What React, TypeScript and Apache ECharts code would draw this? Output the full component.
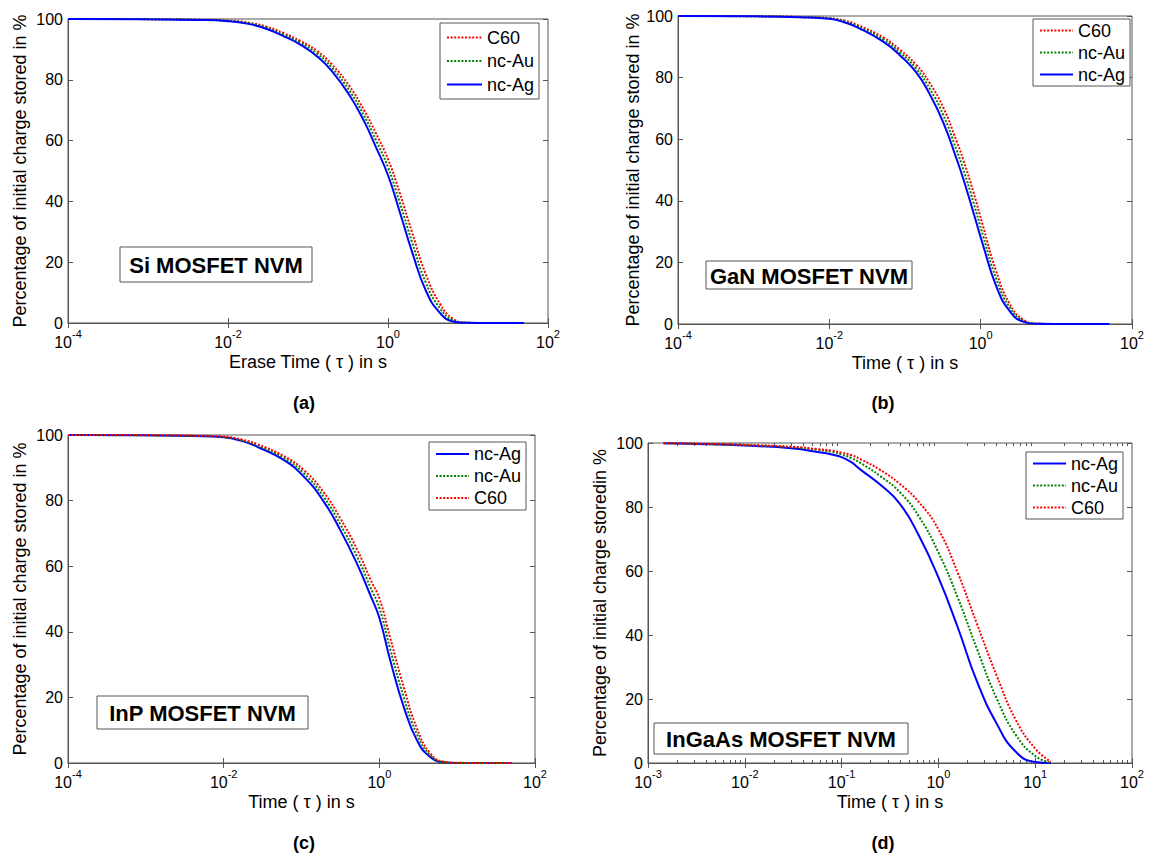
import React, { useEffect, useRef } from "react";
import * as echarts from "echarts";

const FONT = '"Liberation Sans", Arial, Helvetica, sans-serif';
const AXIS_COLOR = "#555";

// ---- (a) Si MOSFET NVM: erase time (s) and charge left (%) ----
const timesA = [0.0001, 0.001, 0.004, 0.01, 0.018, 0.03, 0.05, 0.08, 0.13, 0.2, 0.33, 0.5, 0.7, 1, 1.4, 2, 3, 4.5, 6.5, 9.5, 15, 50];
const agA = [100, 99.9, 99.7, 99.3, 98.4, 96.8, 94.3, 91.6, 87.7, 82.8, 74.9, 66.5, 58.1, 48.6, 36.6, 23.4, 10.4, 3.2, 0.5, 0.05, 0, 0];
const auA = [100, 99.95, 99.75, 99.4, 98.6, 97.1, 94.8, 92.2, 88.6, 83.9, 76.4, 68.3, 60.4, 51.2, 39.7, 26.6, 13.0, 4.7, 0.95, 0.1, 0, 0];
const c60A = [100, 99.95, 99.8, 99.5, 98.8, 97.5, 95.3, 92.8, 89.5, 85.0, 77.9, 70.1, 62.6, 53.9, 42.8, 29.8, 15.7, 6.2, 1.4, 0.15, 0, 0];

// ---- (b) GaN MOSFET NVM ----
const timesB = [0.0001, 0.001, 0.004, 0.01, 0.016, 0.023, 0.052, 0.086, 0.14, 0.21, 0.32, 0.48, 0.59, 0.8, 1.08, 1.6, 2.4, 3.7, 5.5, 10, 50];
const agB = [100, 99.9, 99.6, 99.1, 97.9, 96.4, 91.6, 87.2, 81.8, 74.8, 65.5, 53.6, 47.1, 36.3, 25.4, 12.4, 4.3, 0.7, 0.05, 0, 0];
const auB = [100, 99.9, 99.65, 99.2, 98.2, 96.8, 92.3, 88.1, 83.0, 76.6, 67.9, 56.5, 50.2, 39.6, 28.5, 14.8, 5.5, 1.0, 0.1, 0, 0];
const c60B = [100, 99.95, 99.7, 99.3, 98.5, 97.2, 93.0, 89.0, 84.2, 78.4, 70.3, 59.4, 53.3, 42.9, 31.6, 17.2, 6.7, 1.3, 0.15, 0, 0];

// ---- (c) InP MOSFET NVM ----
const timesC = [0.0001, 0.001, 0.004, 0.01, 0.017, 0.027, 0.059, 0.107, 0.193, 0.315, 0.516, 0.766, 1, 1.38, 2.06, 3.05, 4.5, 6.7, 10, 50];
const agC = [100, 99.9, 99.7, 99.3, 98.2, 96.4, 92.4, 87.3, 79.7, 71.0, 60.8, 51.2, 44.3, 31.3, 17.1, 6.9, 1.8, 0.2, 0, 0];
const auC = [100, 99.9, 99.75, 99.4, 98.4, 96.8, 93.0, 88.3, 81.1, 72.8, 63.0, 53.6, 47.3, 34.7, 20.1, 8.7, 2.4, 0.3, 0.02, 0];
const c60C = [100, 99.95, 99.8, 99.5, 98.6, 97.2, 93.6, 89.3, 82.5, 74.6, 65.2, 56.0, 50.2, 38.1, 23.1, 10.5, 3.0, 0.4, 0.05, 0];

// ---- (d) InGaAs MOSFET NVM ----
const timesD = [0.00145, 0.0032, 0.01, 0.032, 0.056, 0.079, 0.1, 0.126, 0.158, 0.25, 0.4, 0.63, 1, 1.58, 2.5, 4, 6.3, 10, 14.5];
const agD = [99.9, 99.7, 99.2, 98.3, 97.2, 96.4, 95.6, 94.0, 91.6, 87.0, 81.0, 71.0, 58.0, 42.5, 25.5, 12.3, 3.5, 0.3, 0];
const auD = [99.9, 99.75, 99.35, 98.65, 97.9, 97.2, 96.4, 95.3, 93.7, 89.7, 84.6, 77.0, 65.8, 51.8, 35.7, 20.2, 8.8, 2.2, 0.1];
const c60D = [99.9, 99.8, 99.4, 98.8, 98.1, 97.6, 97.0, 96.2, 94.9, 91.6, 87.2, 81.5, 73.0, 59.5, 43.5, 27.3, 13.5, 4.5, 0.4];

// y axis ticks (percent)
const yMin = 0;
const yMax = 100;
const yStep = 20;

// minor log ticks for panel (d): 2..9 within each decade from 1e-3 to 1e2
const minorTicksD: number[] = [];
for (let e = -3; e < 2; e++) {
  for (let k = 2; k <= 9; k++) minorTicksD.push(k * Math.pow(10, e));
}

const STYLE: Record<string, { color: string; type: any; width: number }> = {
  "nc-Ag": { color: "#0000ff", type: "solid", width: 2 },
  "nc-Au": { color: "#008000", type: [2, 1.6], width: 2 },
  C60: { color: "#ff0000", type: [2, 1.6], width: 2 },
};

type Panel = {
  grid: { left: number; top: number; width: number; height: number };
  xMin: number;
  xMax: number;
  xStep: number; // decades between labelled ticks
  minor: boolean;
  xName: string;
  yName: string;
  yNameGap: number;
  tag: string;
  tagPos: [number, number];
  note: string;
  noteBox: [number, number, number, number];
  legend: { left: number; top: number; padding: number[]; itemGap: number; lineHeight: number; itemWidth: number };
  order: string[];
  times: number[];
  values: Record<string, number[]>;
};

const PANELS: Panel[] = [
  {
    grid: { left: 68, top: 19, width: 480, height: 304 },
    xMin: 1e-4, xMax: 1e2, xStep: 2, minor: false,
    xName: "Erase Time ( τ ) in s",
    yName: "Percentage of initial charge stored in %",
    yNameGap: 39,
    tag: "(a)", tagPos: [304, 403],
    note: "Si MOSFET NVM", noteBox: [120, 247, 192, 35],
    legend: { left: 440, top: 23, padding: [5, 5, 5, 6], itemGap: 4.5, lineHeight: 19, itemWidth: 35 },
    order: ["C60", "nc-Au", "nc-Ag"],
    times: timesA,
    values: { C60: c60A, "nc-Au": auA, "nc-Ag": agA },
  },
  {
    grid: { left: 678, top: 16, width: 454, height: 308 },
    xMin: 1e-4, xMax: 1e2, xStep: 2, minor: false,
    xName: "Time ( τ ) in s",
    yName: "Percentage of initial charge stored in %",
    yNameGap: 36,
    tag: "(b)", tagPos: [883, 403],
    note: "GaN MOSFET NVM", noteBox: [706, 261, 206, 28],
    legend: { left: 1033, top: 19, padding: [2.5, 5, 2.5, 6], itemGap: 4, lineHeight: 18, itemWidth: 33 },
    order: ["C60", "nc-Au", "nc-Ag"],
    times: timesB,
    values: { C60: c60B, "nc-Au": auB, "nc-Ag": agB },
  },
  {
    grid: { left: 68, top: 435, width: 467, height: 328 },
    xMin: 1e-4, xMax: 1e2, xStep: 2, minor: false,
    xName: "Time ( τ ) in s",
    yName: "Percentage of initial charge stored in %",
    yNameGap: 39,
    tag: "(c)", tagPos: [304, 843],
    note: "InP MOSFET NVM", noteBox: [97, 696, 211, 33],
    legend: { left: 429, top: 442, padding: [3, 5, 3, 6], itemGap: 4, lineHeight: 18, itemWidth: 33 },
    order: ["nc-Ag", "nc-Au", "C60"],
    times: timesC,
    values: { C60: c60C, "nc-Au": auC, "nc-Ag": agC },
  },
  {
    grid: { left: 648, top: 443, width: 484, height: 320 },
    xMin: 1e-3, xMax: 1e2, xStep: 1, minor: true,
    xName: "Time ( τ ) in s",
    yName: "Percentage of initial charge storedin %",
    yNameGap: 39,
    tag: "(d)", tagPos: [883, 843],
    note: "InGaAs MOSFET NVM", noteBox: [654, 723, 254, 31],
    legend: { left: 1026, top: 452, padding: [2.5, 5, 2.5, 6], itemGap: 4, lineHeight: 18, itemWidth: 33 },
    order: ["nc-Ag", "nc-Au", "C60"],
    times: timesD,
    values: { C60: c60D, "nc-Au": auD, "nc-Ag": agD },
  },
];

function powerLabel(v: number) {
  const e = Math.round(Math.log10(v));
  return "{b|10}{s|" + e + "}";
}

function buildOption() {
  const grid: any[] = [];
  const xAxis: any[] = [];
  const yAxis: any[] = [];
  const series: any[] = [];
  const legend: any[] = [];
  const graphic: any[] = [];

  PANELS.forEach((p, gi) => {
    grid.push({
      ...p.grid,
      show: true,
      borderColor: AXIS_COLOR,
      borderWidth: 1,
      backgroundColor: "#fff",
    });

    const logBase = {
      type: "log",
      logBase: 10,
      gridIndex: gi,
      min: p.xMin,
      max: p.xMax,
      interval: p.xStep,
      splitLine: { show: false },
    };

    const xMain = xAxis.length;
    xAxis.push({
      ...logBase,
      position: "bottom",
      axisLine: { show: true, onZero: false, lineStyle: { color: AXIS_COLOR, width: 1 } },
      axisTick: { show: true, inside: true, length: 5, lineStyle: { color: AXIS_COLOR } },
      axisLabel: {
        formatter: powerLabel,
        margin: 5,
        rich: {
          b: { fontSize: 16, fontFamily: FONT, color: "#000" },
          s: { fontSize: 11, fontFamily: FONT, color: "#000", padding: [0, 0, 18, 0] },
        },
      },
      name: p.xName,
      nameLocation: "middle",
      nameGap: 30,
      nameTextStyle: { fontSize: 18, fontFamily: FONT, color: "#000" },
    });
    xAxis.push({
      ...logBase,
      position: "top",
      axisLine: { show: false },
      axisLabel: { show: false },
      axisTick: { show: true, inside: true, length: 5, lineStyle: { color: AXIS_COLOR } },
    });
    if (p.minor) {
      ["bottom", "top"].forEach((pos) => {
        xAxis.push({
          ...logBase,
          position: pos,
          axisLine: { show: false },
          axisLabel: { show: false },
          axisTick: {
            show: true,
            inside: true,
            length: 3,
            customValues: minorTicksD,
            lineStyle: { color: AXIS_COLOR },
          },
        });
      });
    }

    const yBase = {
      type: "value",
      gridIndex: gi,
      min: yMin,
      max: yMax,
      interval: yStep,
      splitLine: { show: false },
    };
    const yMain = yAxis.length;
    yAxis.push({
      ...yBase,
      position: "left",
      axisLine: { show: true, onZero: false, lineStyle: { color: AXIS_COLOR, width: 1 } },
      axisTick: { show: true, inside: true, length: 5, lineStyle: { color: AXIS_COLOR } },
      axisLabel: { fontSize: 16, fontFamily: FONT, color: "#000", margin: 5 },
      name: p.yName,
      nameLocation: "middle",
      nameGap: p.yNameGap,
      nameTextStyle: { fontSize: 18, fontFamily: FONT, color: "#000" },
    });
    yAxis.push({
      ...yBase,
      position: "right",
      axisLine: { show: false },
      axisLabel: { show: false },
      axisTick: { show: true, inside: true, length: 5, lineStyle: { color: AXIS_COLOR } },
    });

    p.order.forEach((name, k) => {
      const st = STYLE[name];
      const vals = p.values[name];
      series.push({
        type: "line",
        name,
        xAxisIndex: xMain,
        yAxisIndex: yMain,
        data: p.times.map((t, i) => [t, vals[i]]),
        symbol: "none",
        smooth: 0.5,
        z: 2 + k,
        lineStyle: { color: st.color, width: st.width, type: st.type, cap: "butt" },
        itemStyle: { color: st.color },
      });
    });

    legend.push({
      orient: "vertical",
      left: p.legend.left,
      top: p.legend.top,
      padding: p.legend.padding,
      itemGap: p.legend.itemGap,
      itemWidth: p.legend.itemWidth,
      itemHeight: 14,
      selectedMode: false,
      backgroundColor: "#fff",
      borderColor: AXIS_COLOR,
      borderWidth: 1,
      borderRadius: 0,
      itemStyle: { opacity: 0 },
      data: p.order,
      textStyle: { fontSize: 18, fontFamily: FONT, color: "#000", lineHeight: p.legend.lineHeight },
    });

    const [bx, by, bw, bh] = p.noteBox;
    graphic.push({
      type: "rect",
      z: 100,
      shape: { x: bx, y: by, width: bw, height: bh },
      style: { fill: "#fff", stroke: AXIS_COLOR, lineWidth: 1 },
    });
    graphic.push({
      type: "text",
      z: 101,
      x: bx + bw / 2,
      y: by + bh / 2 + 1,
      style: {
        text: p.note,
        fontSize: 22,
        fontWeight: "bold",
        fontFamily: FONT,
        fill: "#000",
        align: "center",
        verticalAlign: "middle",
        textAlign: "center",
        textVerticalAlign: "middle",
      },
    });
    graphic.push({
      type: "text",
      z: 101,
      x: p.tagPos[0],
      y: p.tagPos[1],
      style: {
        text: p.tag,
        fontSize: 18,
        fontWeight: "bold",
        fontFamily: FONT,
        fill: "#000",
        align: "center",
        verticalAlign: "middle",
        textAlign: "center",
        textVerticalAlign: "middle",
      },
    });
  });

  return {
    animation: false,
    backgroundColor: "#fff",
    textStyle: { fontFamily: FONT },
    grid,
    xAxis,
    yAxis,
    legend,
    series,
    graphic,
  };
}

export default function App() {
  const ref = useRef<HTMLDivElement | null>(null);

  useEffect(() => {
    if (!ref.current) return;
    const chart = echarts.init(ref.current, null, { renderer: "svg" });
    chart.setOption(buildOption() as any);
    return () => chart.dispose();
  }, []);

  return (
    <div
      ref={ref}
      style={{ position: "absolute", left: 0, top: 0, width: 1149, height: 858, background: "#fff" }}
    />
  );
}
